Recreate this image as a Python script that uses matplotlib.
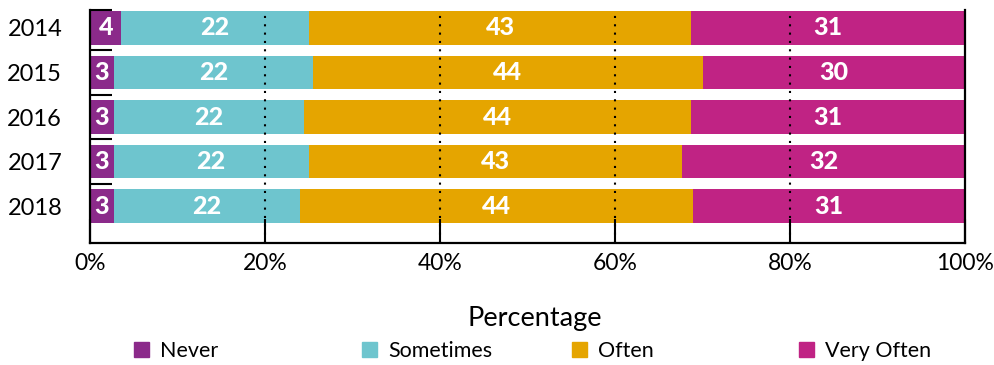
import numpy as np
import matplotlib
matplotlib.use("Agg")
import matplotlib.pyplot as plt
from matplotlib.patches import Patch
from matplotlib import font_manager

plt.rcParams['font.family'] = ['Lato', 'DejaVu Sans']

years = ['2014', '2015', '2016', '2017', '2018']
categories = ['Never', 'Sometimes', 'Often', 'Very Often']
colors = ['#8B2A8A', '#6EC5CE', '#E5A500', '#C02384']

# segment widths (percent)
never = [3.6, 2.7, 2.7, 2.7, 2.7]
sometimes = [21.4, 22.8, 21.8, 22.3, 21.3]
often = [43.7, 44.5, 44.2, 42.7, 44.9]
very_often = [31.3, 30.0, 31.3, 32.3, 31.1]

# printed labels
never_lbl = [4, 3, 3, 3, 3]
sometimes_lbl = [22, 22, 22, 22, 22]
often_lbl = [43, 44, 44, 43, 44]
very_often_lbl = [31, 30, 31, 32, 31]

values = [never, sometimes, often, very_often]
labels = [never_lbl, sometimes_lbl, often_lbl, very_often_lbl]

# pick a family that really has a heavy face for the bar labels
bold_family = 'DejaVu Sans'
for fam in ['Lato', 'Open Sans', 'Roboto', 'Noto Sans']:
    try:
        path = font_manager.findfont(
            font_manager.FontProperties(family=fam, weight='black'),
            fallback_to_default=False)
    except Exception:
        continue
    if any(k in path.lower() for k in ['bold', 'black', 'heavy']):
        bold_family = fam
        break

fig = plt.figure(figsize=(9.94, 3.65), dpi=100)
ax = fig.add_axes([0.0905, 0.3342, 0.8805, 0.6384])

y = np.arange(len(years))
left = np.zeros(len(years))
for vals, lbls, col in zip(values, labels, colors):
    vals = np.array(vals)
    ax.barh(y, vals, left=left, height=0.76, color=col, zorder=1)
    for yi, l, v, t in zip(y, left, vals, lbls):
        ax.text(l + v / 2, yi, str(t), ha='center', va='center',
                color='white', fontsize=18, fontweight='black',
                family=[bold_family, 'DejaVu Sans'], zorder=4)
    left += vals

for gx in [20, 40, 60, 80]:
    ax.axvline(gx, color='black', lw=1.5, linestyle=(0, (1, 3)), zorder=3)

ax.set_xlim(0, 100)
ax.set_ylim(4.83, -0.404)
ax.set_yticks(y)
ax.set_yticklabels(years, fontsize=17)
ax.tick_params(axis='y', which='major', length=0, pad=20)
ax.set_yticks([-0.404, 0.5, 1.5, 2.5, 3.5], minor=True)
ax.tick_params(axis='y', which='minor', direction='in', length=16, width=1.5,
               color='black')

ax.set_xticks([0, 20, 40, 60, 80, 100])
ax.set_xticklabels(['0%', '20%', '40%', '60%', '80%', '100%'], fontsize=16.5)
ax.tick_params(axis='x', direction='in', length=17, width=1.5, pad=7)

ax.set_xlabel('Percentage', fontsize=19.5)
ax.xaxis.set_label_coords(0.508, -0.27)

ax.spines['top'].set_visible(False)
for s in ['left', 'right', 'bottom']:
    ax.spines[s].set_linewidth(1.6)
    ax.spines[s].set_color('black')

legend_x = [0.1348, 0.3642, 0.5755, 0.8038]
for cat, col, lx in zip(categories, colors, legend_x):
    fig.legend(handles=[Patch(color=col, label=cat)], loc='center left',
               bbox_to_anchor=(lx, 0.038), frameon=False, fontsize=15.5,
               handlelength=0.7, handleheight=0.7, handletextpad=0.5,
               borderpad=0, borderaxespad=0)

plt.savefig('out.png', dpi=100)
